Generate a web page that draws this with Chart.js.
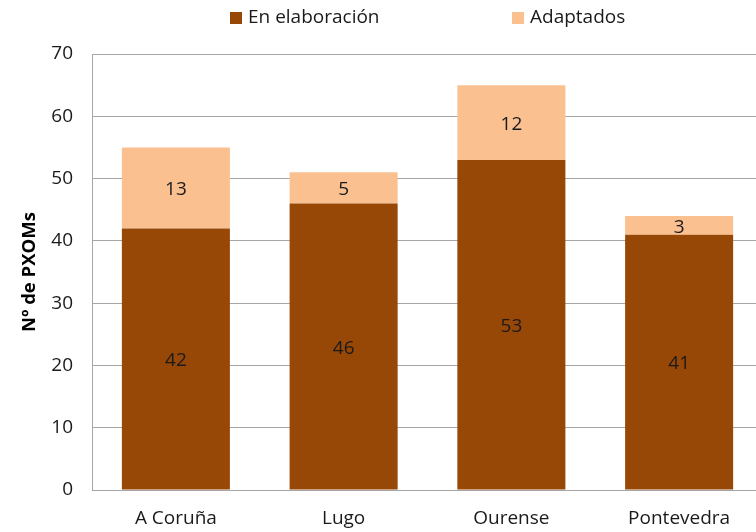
<!DOCTYPE html>
<html>
<head>
<meta charset="utf-8">
<script src="https://cdn.jsdelivr.net/npm/chart.js@4"></script>
<style>
html,body{margin:0;padding:0;background:#fff;overflow:hidden;}
#wrap{width:763px;height:532px;}
</style>
</head>
<body>
<div id="wrap"><canvas id="c" width="763" height="532"></canvas></div>
<script>
const categories = ["A Coruña", "Lugo", "Ourense", "Pontevedra"];
const seriesNames = ["En elaboración", "Adaptados"];
const enElaboracion = [42, 46, 53, 41];
const adaptados = [13, 5, 12, 3];
const yTicks = [0, 10, 20, 30, 40, 50, 60, 70];
const yTitle = "Nº de PXOMs";
const colors = ["#974706", "#FAC090"];

const FONT = "'Open Sans', 'Liberation Sans', sans-serif";

const valueLabels = {
  id: 'valueLabels',
  afterDatasetsDraw(chart) {
    const ctx = chart.ctx;
    ctx.save();
    ctx.font = "19px " + FONT;
    ctx.fillStyle = "#1a1a1a";
    ctx.textAlign = "center";
    ctx.textBaseline = "middle";
    chart.data.datasets.forEach((ds, di) => {
      const meta = chart.getDatasetMeta(di);
      meta.data.forEach((bar, i) => {
        const y = (bar.y + bar.base) / 2 + 2;
        ctx.fillText(String(ds.data[i]), bar.x, y);
      });
    });
    ctx.restore();
  }
};

const topLegend = {
  id: 'topLegend',
  afterDraw(chart) {
    const ctx = chart.ctx;
    ctx.save();
    ctx.font = "19px " + FONT;
    ctx.textBaseline = "middle";
    ctx.textAlign = "left";
    const starts = [230, 512];
    chart.data.datasets.forEach((ds, di) => {
      const x = starts[di];
      ctx.fillStyle = ds.backgroundColor;
      ctx.fillRect(x, 12, 12, 12);
      ctx.fillStyle = "#1a1a1a";
      ctx.fillText(ds.label, x + 18, 18);
    });
    ctx.restore();
  }
};

new Chart(document.getElementById('c'), {
  type: 'bar',
  data: {
    labels: categories,
    datasets: [
      { label: seriesNames[0], data: enElaboracion, backgroundColor: colors[0], borderWidth: 0, categoryPercentage: 1.0, barPercentage: 0.644 },
      { label: seriesNames[1], data: adaptados, backgroundColor: colors[1], borderWidth: 0, categoryPercentage: 1.0, barPercentage: 0.644 }
    ]
  },
  options: {
    responsive: false,
    animation: false,
    devicePixelRatio: 1,
    layout: { padding: { top: 54, right: 0, bottom: 0, left: 0 } },
    plugins: {
      legend: { display: false },
      tooltip: { enabled: false }
    },
    scales: {
      x: {
        stacked: true,
        grid: { display: false, drawTicks: false },
        border: { display: true, color: "#a6a6a6", width: 1 },
        ticks: { color: "#1a1a1a", font: { family: FONT, size: 19 }, padding: 17, maxRotation: 0 },
        afterFit(scale) { scale.height = 42; }
      },
      y: {
        stacked: true,
        min: 0,
        max: 70,
        afterBuildTicks(scale) { scale.ticks = yTicks.map(v => ({ value: v })); },
        grid: { color: "#a6a6a6", drawTicks: false, lineWidth: 1 },
        border: { display: true, color: "#a6a6a6", width: 1 },
        ticks: { color: "#1a1a1a", font: { family: FONT, size: 19 }, padding: 19 },
        title: {
          display: true,
          text: yTitle,
          color: "#000",
          font: { family: FONT, size: 18.5, weight: 'bold' },
          padding: { top: 19, bottom: 0 }
        },
        afterFit(scale) { scale.width = 92; }
      }
    }
  },
  plugins: [valueLabels, topLegend]
});
</script>
</body>
</html>
